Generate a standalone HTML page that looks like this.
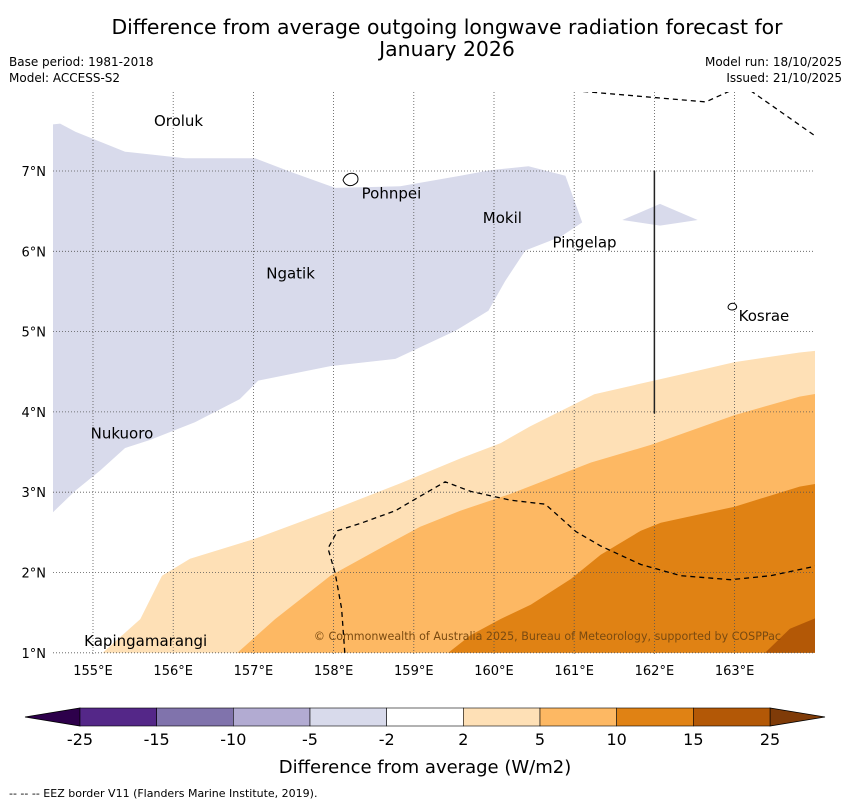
<!DOCTYPE html>
<html><head><meta charset="utf-8"><style>
body{margin:0;background:#fff;width:850px;height:804px;overflow:hidden;font-family:"DejaVu Sans","Liberation Sans",sans-serif}
</style></head><body>
<svg width="850" height="804" xmlns="http://www.w3.org/2000/svg">
<text x="447" y="34" font-size="20.4" text-anchor="middle">Difference from average outgoing longwave radiation forecast for</text>
<text x="447" y="56" font-size="20.4" text-anchor="middle">January 2026</text>
<text x="9" y="66" font-size="12">Base period: 1981-2018</text>
<text x="9" y="82" font-size="12">Model: ACCESS-S2</text>
<text x="842" y="66" font-size="12" text-anchor="end">Model run: 18/10/2025</text>
<text x="842" y="82" font-size="12" text-anchor="end">Issued: 21/10/2025</text>
<defs><clipPath id="mc"><rect x="53" y="92" width="762" height="562"/></clipPath></defs>
<g id="map" clip-path="url(#mc)"></g>
<g id="cb"></g>
<text x="425" y="773" font-size="18" text-anchor="middle">Difference from average (W/m2)</text>
<text x="9" y="797" font-size="11">--  --  -- EEZ border V11 (Flanders Marine Institute, 2019).</text>
</svg>
<script>
const lonTicks=[155,156,157,158,159,160,161,162,163];
const latTicks=[1,2,3,4,5,6,7];
const bounds=[-25,-15,-10,-5,-2,2,5,10,15,25];
const colors=["#542788","#8073ac","#b2abd2","#d8daeb","#ffffff","#fee0b6","#fdb863","#e08214","#b35806"];
const lavender=[[154.5,7.58],[154.59,7.59],[154.78,7.49],[155.4,7.24],[156.15,7.16],[157.02,7.16],[157.46,6.99],[158.02,6.79],[158.83,6.81],[159.58,6.94],[159.95,7.01],[160.43,7.06],[160.89,6.94],[161.1,6.36],[160.83,6.18],[160.39,6.01],[160.14,5.63],[159.93,5.26],[159.52,5.01],[158.77,4.66],[157.96,4.57],[157.06,4.39],[156.83,4.16],[156.27,3.87],[155.71,3.65],[155.4,3.55],[155.09,3.27],[154.78,3.02],[154.5,2.75]];
const lavPatch=[[161.6,6.39],[162.07,6.59],[162.54,6.39],[162.07,6.32]];
const c2=[[155.12,1],[155.59,1.42],[155.86,1.96],[156.21,2.17],[157.02,2.42],[157.96,2.77],[158.83,3.11],[159.58,3.42],[160.08,3.61],[160.45,3.82],[161.25,4.22],[162.57,4.52],[163,4.62],[163.81,4.74],[164.1,4.77],[164.1,1]];
const c5=[[156.8,1],[157.27,1.42],[157.96,1.96],[158.58,2.3],[159.08,2.57],[159.58,2.77],[160.21,2.98],[161.21,3.37],[161.96,3.59],[163,3.96],[163.81,4.19],[164.1,4.24],[164.1,1]];
const c10=[[159.43,1],[159.71,1.22],[160.08,1.42],[160.46,1.6],[160.96,1.92],[161.33,2.22],[161.83,2.52],[162.08,2.62],[163,2.82],[163.81,3.07],[164.1,3.12],[164.1,1]];
const c15=[[163.38,1],[163.69,1.3],[164.1,1.47],[164.1,1]];
const eez=[[158.14,1],[158.1,1.55],[158.02,1.99],[157.93,2.3],[158.05,2.52],[158.33,2.61],[158.77,2.77],[159.08,2.95],[159.39,3.13],[159.71,3.01],[160.21,2.9],[160.64,2.85],[161.02,2.51],[161.33,2.33],[161.83,2.1],[162.33,1.96],[162.95,1.91],[163.45,1.96],[164.01,2.08]];
const eez2=[[161,8.0],[162.64,7.86],[162.95,8.0]];
const eez3=[[163.2,8.0],[164,7.44]];
const places=[["Oroluk",155.76,7.56],["Pohnpei",158.35,6.66],["Mokil",159.86,6.35],["Pingelap",160.73,6.05],["Ngatik",157.16,5.66],["Kosrae",163.05,5.13],["Nukuoro",154.97,3.67],["Kapingamarangi",154.89,1.085]];
const X=lon=>93+(lon-155)*80.2, Y=lat=>171-(lat-7)*80.3;
const NS="http://www.w3.org/2000/svg";
const map=document.getElementById('map');
function mk(t,a,p){const e=document.createElementNS(NS,t);for(const k in a)e.setAttribute(k,a[k]);(p||map).appendChild(e);return e;}
const pts=a=>a.map(p=>X(p[0]).toFixed(1)+','+Y(p[1]).toFixed(1)).join(' ');
let e;
e=mk('polygon',{points:pts(lavender),fill:colors[3]});
e=mk('polygon',{points:pts(lavPatch),fill:colors[3]});
[[c2,5,'region-2-to-5'],[c5,6,'region-5-to-10'],[c10,7,'region-10-to-15'],[c15,8,'region-15-to-25']].forEach(([a,i,n])=>{e=mk('polygon',{points:pts(a),fill:colors[i]});});
lonTicks.forEach(l=>{e=mk('line',{x1:X(l),x2:X(l),y1:92,y2:654,stroke:'#555','stroke-width':0.8,'stroke-dasharray':'1,2'});});
latTicks.forEach(l=>{e=mk('line',{x1:53,x2:815,y1:Y(l),y2:Y(l),stroke:'#555','stroke-width':0.8,'stroke-dasharray':'1,2'});});
[eez,eez2,eez3].forEach(a=>{e=mk('polyline',{points:pts(a),fill:'none',stroke:'#000','stroke-width':1.3,'stroke-dasharray':'5,4'});});
e=mk('line',{x1:X(162),x2:X(162),y1:Y(7),y2:Y(3.98),stroke:'#222','stroke-width':1.5});
e=mk('path',{d:`M343 180 c2,-6 8,-8 12,-6 c4,2 4,8 0,10 c-4,3 -10,2 -12,-4z`,fill:'#fff',stroke:'#000','stroke-width':1});
e=mk('path',{d:`M728 307 c1,-4 6,-5 8,-2 c2,3 -1,5 -4,5 c-2,0 -4,-1 -4,-3z`,fill:'#fff',stroke:'#000','stroke-width':1});
places.forEach(([n,lo,la])=>{e=mk('text',{x:X(lo),y:Y(la),'font-size':15});e.textContent=n;});
const svg=document.querySelector('svg');
e=mk('text',{x:781,y:640,'font-size':11.1,'text-anchor':'end',fill:'#7a4a10'},svg);e.textContent='© Commonwealth of Australia 2025, Bureau of Meteorology, supported by COSPPac';
lonTicks.forEach(l=>{e=mk('text',{x:X(l),y:675,'font-size':13,'text-anchor':'middle'},svg);e.textContent=l+'°E';});
latTicks.forEach(l=>{e=mk('text',{x:46,y:Y(l)+5,'font-size':13,'text-anchor':'end'},svg);e.textContent=l+'°N';});
const cb=document.getElementById('cb');
const cbX=i=>80+i*((770-80)/(bounds.length-1));
e=mk('polygon',{points:`80,708 80,726 25,717`,fill:'#2d004b',stroke:'#000','stroke-width':0.8},cb);
e=mk('polygon',{points:`770,708 770,726 825,717`,fill:'#7f3b08',stroke:'#000','stroke-width':0.8},cb);
colors.forEach((c,i)=>{e=mk('rect',{x:cbX(i),y:708,width:cbX(i+1)-cbX(i),height:18,fill:c,stroke:'#000','stroke-width':0.6},cb);});
bounds.forEach((b,i)=>{e=mk('text',{x:cbX(i),y:745,'font-size':16,'text-anchor':'middle'},cb);e.textContent=b;});
</script>
</body></html>
